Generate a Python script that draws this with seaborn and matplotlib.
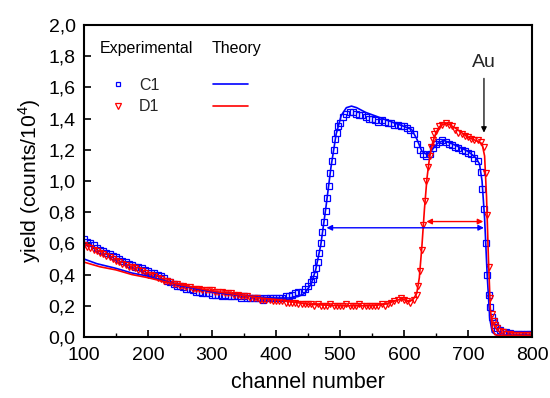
import numpy as np
import matplotlib
matplotlib.use("Agg")
import matplotlib.pyplot as plt
from matplotlib.lines import Line2D
from matplotlib.ticker import MultipleLocator, FuncFormatter
import seaborn as sns

# experimental spectra, one value every 5 channels from 100 to 800
ch_exp = np.arange(100, 801, 5)
c1_exp = [0.63, 0.61, 0.60, 0.59, 0.57, 0.56, 0.55, 0.54, 0.53, 0.52,
          0.51, 0.50, 0.49, 0.48, 0.47, 0.46, 0.45, 0.45, 0.44, 0.43,
          0.42, 0.41, 0.41, 0.40, 0.39, 0.38, 0.36, 0.35, 0.34, 0.33,
          0.33, 0.32, 0.31, 0.31, 0.30, 0.29, 0.29, 0.28, 0.28, 0.28,
          0.27, 0.27, 0.27, 0.26, 0.27, 0.26, 0.26, 0.26, 0.26, 0.25,
          0.26, 0.25, 0.25, 0.25, 0.25, 0.25, 0.24, 0.25, 0.25, 0.25,
          0.25, 0.25, 0.25, 0.26, 0.26, 0.27, 0.28, 0.29, 0.29, 0.31,
          0.33, 0.35, 0.40, 0.48, 0.60, 0.74, 0.89, 1.05, 1.20, 1.31,
          1.37, 1.41, 1.43, 1.44, 1.44, 1.43, 1.42, 1.42, 1.41, 1.40,
          1.40, 1.39, 1.38, 1.39, 1.38, 1.37, 1.37, 1.36, 1.36, 1.35,
          1.35, 1.34, 1.33, 1.30, 1.24, 1.20, 1.17, 1.16, 1.17, 1.21,
          1.24, 1.25, 1.26, 1.25, 1.24, 1.23, 1.22, 1.21, 1.20, 1.19,
          1.18, 1.17, 1.15, 1.13, 1.06, 0.82, 0.40, 0.19, 0.10, 0.06,
          0.045, 0.035, 0.03, 0.025, 0.022, 0.02, 0.02, 0.02, 0.02, 0.02,
          0.02]
d1_exp = [0.59, 0.58, 0.57, 0.56, 0.55, 0.54, 0.53, 0.52, 0.51, 0.50,
          0.49, 0.48, 0.47, 0.46, 0.45, 0.45, 0.44, 0.43, 0.42, 0.41,
          0.40, 0.40, 0.39, 0.38, 0.37, 0.36, 0.36, 0.35, 0.34, 0.34,
          0.33, 0.33, 0.32, 0.32, 0.31, 0.31, 0.31, 0.30, 0.30, 0.30,
          0.30, 0.29, 0.29, 0.29, 0.28, 0.28, 0.28, 0.27, 0.27, 0.26,
          0.26, 0.26, 0.25, 0.25, 0.25, 0.24, 0.24, 0.24, 0.24, 0.23,
          0.23, 0.23, 0.23, 0.22, 0.22, 0.22, 0.22, 0.21, 0.21, 0.21,
          0.21, 0.21, 0.20, 0.21, 0.20, 0.20, 0.20, 0.21, 0.20, 0.20,
          0.20, 0.20, 0.21, 0.20, 0.20, 0.20, 0.21, 0.20, 0.20, 0.20,
          0.20, 0.20, 0.20, 0.21, 0.20, 0.21, 0.22, 0.23, 0.24, 0.25,
          0.24, 0.23, 0.22, 0.24, 0.27, 0.42, 0.72, 1.00, 1.16, 1.26,
          1.32, 1.35, 1.36, 1.37, 1.36, 1.35, 1.33, 1.31, 1.30, 1.29,
          1.28, 1.27, 1.26, 1.26, 1.25, 1.22, 0.78, 0.25, 0.10, 0.06,
          0.04, 0.03, 0.02, 0.018, 0.015, 0.015, 0.015, 0.015, 0.015, 0.015,
          0.015]

# extra points on the steep edges
c1_edge_ch = [457.5, 462.5, 467.5, 472.5, 477.5, 482.5, 487.5, 492.5, 497.5,
              722.5, 727.5, 732.5, 737.5, 742.5]
c1_edge = [0.37, 0.44, 0.54, 0.67, 0.81, 0.97, 1.13, 1.27, 1.35,
           0.95, 0.60, 0.27, 0.13, 0.08]
d1_edge_ch = [622.5, 627.5, 632.5, 637.5, 642.5, 647.5,
              727.5, 732.5, 737.5, 742.5]
d1_edge = [0.33, 0.56, 0.87, 1.09, 1.22, 1.30,
           1.05, 0.45, 0.15, 0.08]

# simulated spectra
c1_th_ch = [100, 120, 150, 175, 200, 225, 250, 275, 300, 325,
            350, 375, 400, 420, 435, 445, 455, 462, 470, 478,
            486, 494, 502, 510, 518, 526, 540, 560, 580, 600,
            612, 620, 628, 636, 644, 652, 662, 680, 700, 712,
            718, 722, 726, 730, 734, 738, 745, 760, 800]
c1_th = [0.50, 0.47, 0.44, 0.41, 0.39, 0.36, 0.33, 0.31, 0.29, 0.275,
         0.265, 0.255, 0.25, 0.25, 0.26, 0.28, 0.34, 0.43, 0.59, 0.83,
         1.09, 1.30, 1.42, 1.47, 1.48, 1.47, 1.44, 1.41, 1.38, 1.35,
         1.33, 1.27, 1.19, 1.17, 1.20, 1.24, 1.26, 1.23, 1.19, 1.15,
         1.11, 1.00, 0.76, 0.40, 0.12, 0.03, 0.012, 0.01, 0.01]
d1_th_ch = [100, 125, 150, 175, 200, 225, 250, 275, 300, 325,
            350, 375, 400, 425, 450, 475, 500, 525, 550, 570,
            585, 597, 608, 615, 620, 624, 628, 632, 636, 640,
            645, 650, 656, 664, 672, 680, 690, 700, 712, 722,
            726, 729, 732, 735, 738, 742, 750, 800]
d1_th = [0.48, 0.45, 0.43, 0.40, 0.38, 0.355, 0.335, 0.315, 0.295, 0.28,
         0.265, 0.25, 0.24, 0.225, 0.21, 0.205, 0.20, 0.20, 0.20, 0.21,
         0.23, 0.245, 0.225, 0.245, 0.28, 0.38, 0.58, 0.82, 1.02, 1.15,
         1.25, 1.31, 1.35, 1.37, 1.36, 1.34, 1.31, 1.28, 1.26, 1.24,
         1.16, 0.90, 0.50, 0.18, 0.05, 0.015, 0.01, 0.01]

c1_x = np.concatenate([ch_exp, c1_edge_ch])
c1_y = np.concatenate([c1_exp, c1_edge])
d1_x = np.concatenate([ch_exp, d1_edge_ch])
d1_y = np.concatenate([d1_exp, d1_edge])

sns.set_theme(style="ticks")
plt.rcParams["font.family"] = ["Liberation Sans", "DejaVu Sans"]
plt.rcParams["mathtext.fontset"] = "custom"
plt.rcParams["mathtext.rm"] = "Liberation Sans"

blue = "#0000ff"
red = "#ff0000"

fig = plt.figure(figsize=(5.5, 3.98), dpi=100)
ax = fig.add_axes([0.1527, 0.1533, 0.8145, 0.7839])

sns.lineplot(x=c1_x, y=c1_y, ax=ax, marker="s", linestyle="none",
             markersize=3.7, markerfacecolor="none", markeredgecolor=blue,
             markeredgewidth=0.9, estimator=None, sort=False)
sns.lineplot(x=d1_x, y=d1_y, ax=ax, marker="v", linestyle="none",
             markersize=4.3, markerfacecolor="none", markeredgecolor=red,
             markeredgewidth=0.9, estimator=None, sort=False)
sns.lineplot(x=c1_th_ch, y=c1_th, ax=ax, color=blue, lw=1.2,
             estimator=None, sort=False)
sns.lineplot(x=d1_th_ch, y=d1_th, ax=ax, color=red, lw=1.2,
             estimator=None, sort=False)

# range arrows and Au surface edge
ax.annotate("", xy=(479, 0.70), xytext=(725, 0.70),
            arrowprops=dict(arrowstyle="<|-|>", color=blue, lw=1.0,
                            mutation_scale=8, shrinkA=0, shrinkB=0))
ax.annotate("", xy=(635, 0.74), xytext=(724, 0.74),
            arrowprops=dict(arrowstyle="<|-|>", color=red, lw=1.0,
                            mutation_scale=8, shrinkA=0, shrinkB=0))
ax.annotate("Au", xy=(725, 1.31), xytext=(725, 1.76), ha="center", va="center",
            fontsize=14,
            arrowprops=dict(arrowstyle="-|>", color="black", lw=0.9,
                            mutation_scale=8, shrinkA=3, shrinkB=0))

ax.set_xlim(100, 800)
ax.set_ylim(0, 2.0)
ax.xaxis.set_major_locator(MultipleLocator(100))
ax.xaxis.set_minor_locator(MultipleLocator(50))
ax.yaxis.set_major_locator(MultipleLocator(0.2))
ax.yaxis.set_major_formatter(FuncFormatter(lambda v, p: f"{v:.1f}".replace(".", ",")))
ax.tick_params(which="both", direction="in", colors="black", labelsize=14,
               top=False, right=False)
ax.tick_params(axis="x", pad=7)
ax.tick_params(axis="y", pad=6)
ax.tick_params(which="major", length=5, width=1.2)
ax.tick_params(which="minor", length=3, width=1.0)
for s in ax.spines.values():
    s.set_visible(True)
    s.set_color("black")
    s.set_linewidth(1.5)

ax.set_xlabel("channel number", fontsize=15.5, color="black", labelpad=6)
ax.set_ylabel(r"yield (counts/10$^\mathregular{4}$)", fontsize=15.2,
              color="black", labelpad=4)

# legend: header texts plus a two column legend
ax.text(0.036, 0.926, "Experimental", transform=ax.transAxes, fontsize=11.5,
        va="center", ha="left", color="black")
ax.text(0.286, 0.926, "Theory", transform=ax.transAxes, fontsize=11.5,
        va="center", ha="left", color="black")
handles = [
    Line2D([], [], marker="s", ls="none", ms=3.4, mfc="none", mec=blue, mew=0.9),
    Line2D([], [], marker="v", ls="none", ms=4.0, mfc="none", mec=red, mew=0.9),
    Line2D([], [], color=blue, lw=1.2),
    Line2D([], [], color=red, lw=1.2),
]
ax.legend(handles, ["C1", "D1", "", ""], ncol=2, loc="upper left",
          bbox_to_anchor=(0.036, 0.83), frameon=False, fontsize=11.5,
          borderpad=0, borderaxespad=0, handlelength=2.2, handletextpad=0.25,
          columnspacing=3.35, labelspacing=0.4)

fig.savefig("out.png", dpi=100)
